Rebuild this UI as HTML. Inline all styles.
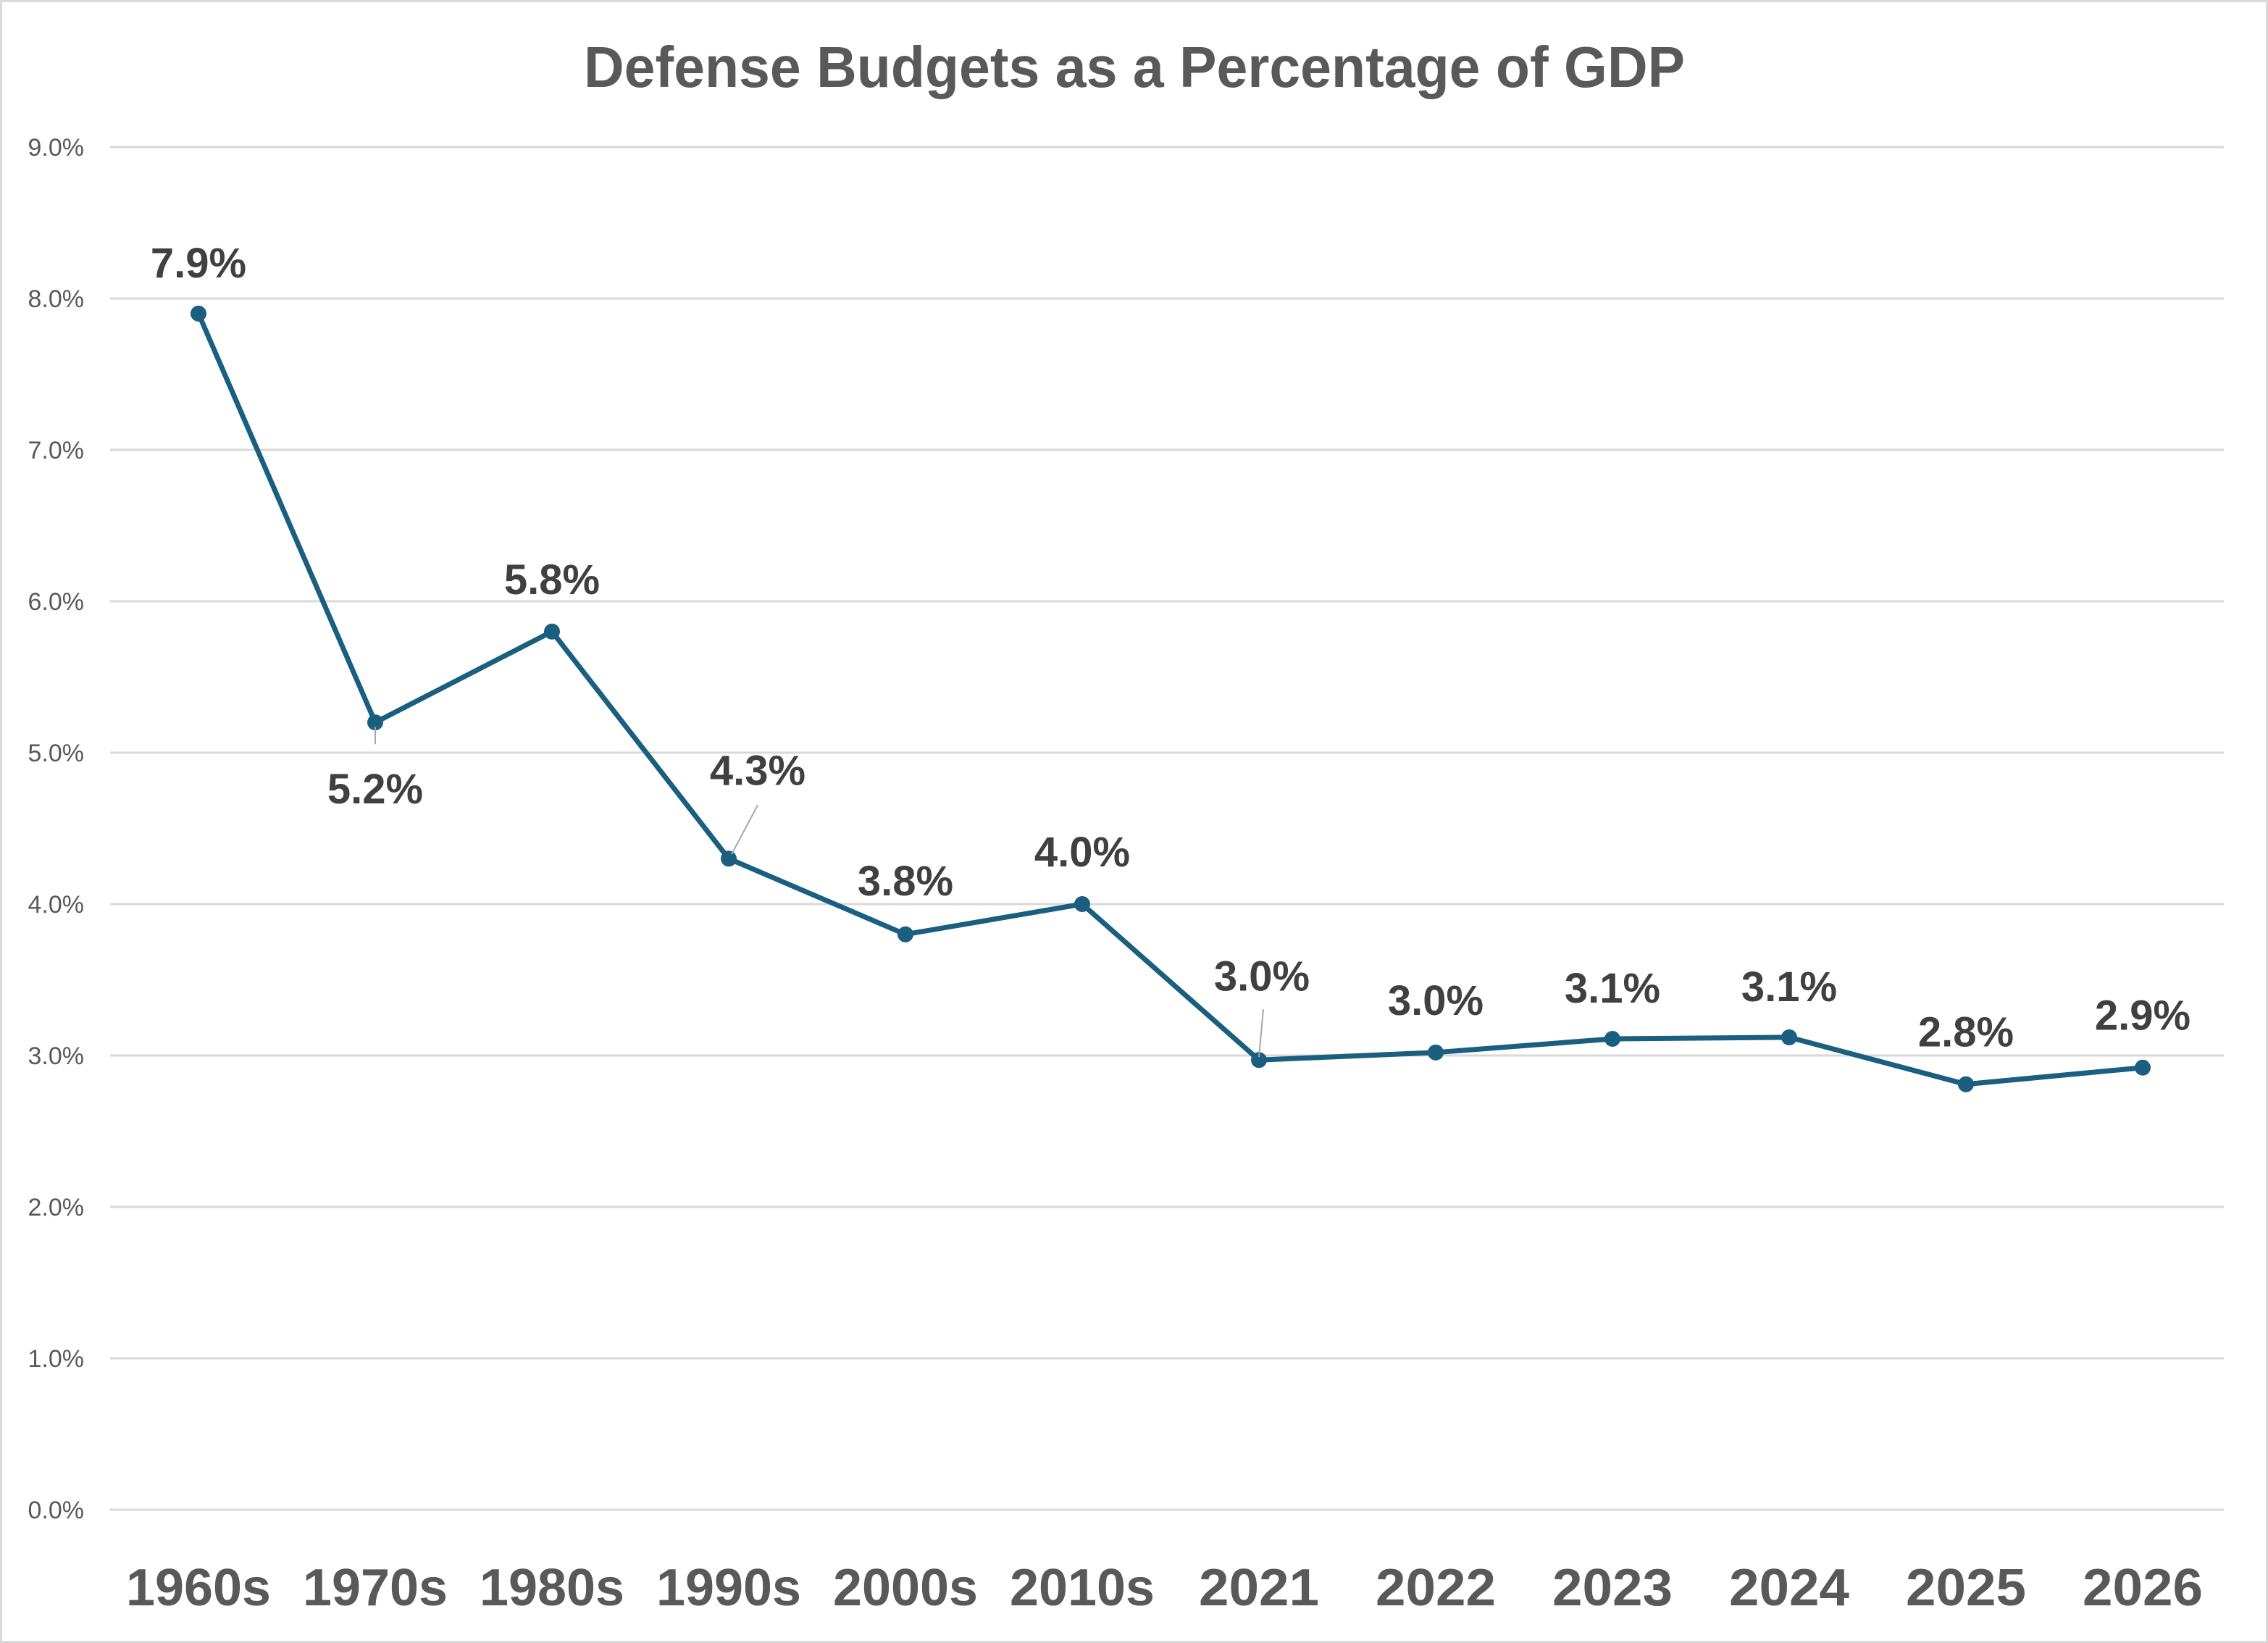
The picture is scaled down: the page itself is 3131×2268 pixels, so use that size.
<!DOCTYPE html>
<html><head><meta charset="utf-8">
<style>
html,body{margin:0;padding:0;background:#fff;}
svg{display:block;}
</style></head>
<body>
<svg id="chart" width="3131" height="2268" viewBox="0 0 3131 2268" xmlns="http://www.w3.org/2000/svg">
<rect x="1.5" y="1.5" width="3128" height="2265" fill="#fff" stroke="#d9d9d9" stroke-width="3"/>
<text x="1566" y="120" text-anchor="middle" font-family="Liberation Sans, sans-serif" font-weight="bold" font-size="80" fill="#595959" textLength="1520" lengthAdjust="spacingAndGlyphs">Defense Budgets as a Percentage of GDP</text>
<g id="grid"></g>
<g id="series"></g>
<g id="labels"></g>
</svg>
<script>
const categories = ["1960s","1970s","1980s","1990s","2000s","2010s","2021","2022","2023","2024","2025","2026"];
const values = [7.9, 5.2, 5.8, 4.3, 3.8, 4.0, 2.97, 3.02, 3.11, 3.12, 2.81, 2.92];
const valueLabels = ["7.9%","5.2%","5.8%","4.3%","3.8%","4.0%","3.0%","3.0%","3.1%","3.1%","2.8%","2.9%"];
const yTicks = [0,1,2,3,4,5,6,7,8,9];
const yTickLabels = ["0.0%","1.0%","2.0%","3.0%","4.0%","5.0%","6.0%","7.0%","8.0%","9.0%"];

const NS = "http://www.w3.org/2000/svg";
const plotL = 152, plotR = 3080, yZero = 2084, yTop = 203, yMax = 9;
const band = (plotR - plotL) / categories.length;
function xScale(i){ return plotL + band * (i + 0.5); }
function yScale(v){ return yZero - (v / yMax) * (yZero - yTop); }
function mk(tag, attrs, parent){ const e = document.createElementNS(NS, tag); for (const k in attrs) e.setAttribute(k, attrs[k]); parent.appendChild(e); return e; }

const grid = document.getElementById('grid');
yTicks.forEach((t, i) => {
  const y = yScale(t);
  const gl = mk('line', {x1: plotL, x2: 3070, y1: y, y2: y, stroke: '#d9d9d9', 'stroke-width': 3}, grid);
  
  
  const tl = mk('text', {x: 116, y: y + 12, 'text-anchor': 'end', 'font-family': 'Liberation Sans, sans-serif', 'font-size': 34, fill: '#595959'}, grid);
  tl.textContent = yTickLabels[i];
  
  
});
categories.forEach((c, i) => {
  const t = mk('text', {x: xScale(i), y: 2216, 'text-anchor': 'middle', 'font-family': 'Liberation Sans, sans-serif', 'font-weight': 'bold', 'font-size': 72, fill: '#595959', textLength: c.length > 4 ? 200 : 166, lengthAdjust: 'spacingAndGlyphs'}, grid);
  t.textContent = c;
  
  
});

const series = document.getElementById('series');
const pts = values.map((v, i) => xScale(i) + ',' + yScale(v)).join(' ');
const line = mk('polyline', {points: pts, fill: 'none', stroke: '#1a5e80', 'stroke-width': 7, 'stroke-linejoin': 'round'}, series);


values.forEach((v, i) => {
  const c = mk('circle', {cx: xScale(i), cy: yScale(v), r: 11, fill: '#1a5e80'}, series);
  
  
});

// label placement offsets (layout only)
const offs = [[0,-50],[0,112],[0,-52],[40,-102],[0,-54],[0,-52],[4,-96],[0,-52],[0,-50],[0,-50],[0,-52],[0,-52]];
const leaders = {1:[[0,6],[0,30]], 3:[[4,-6],[40,-74]], 6:[[0,-4],[6,-70]]};
const labels = document.getElementById('labels');
values.forEach((v, i) => {
  const x = xScale(i), y = yScale(v);
  if (leaders[i]) {
    const L = leaders[i];
    const ld = mk('line', {x1: x + L[0][0], y1: y + L[0][1], x2: x + L[1][0], y2: y + L[1][1], stroke: '#a6a6a6', 'stroke-width': 2}, labels);
    
    
  }
  const t = mk('text', {x: x + offs[i][0], y: y + offs[i][1], 'text-anchor': 'middle', 'font-family': 'Liberation Sans, sans-serif', 'font-weight': 'bold', 'font-size': 58, fill: '#404040'}, labels);
  t.textContent = valueLabels[i];
  
  
});
</script>
</body></html>
